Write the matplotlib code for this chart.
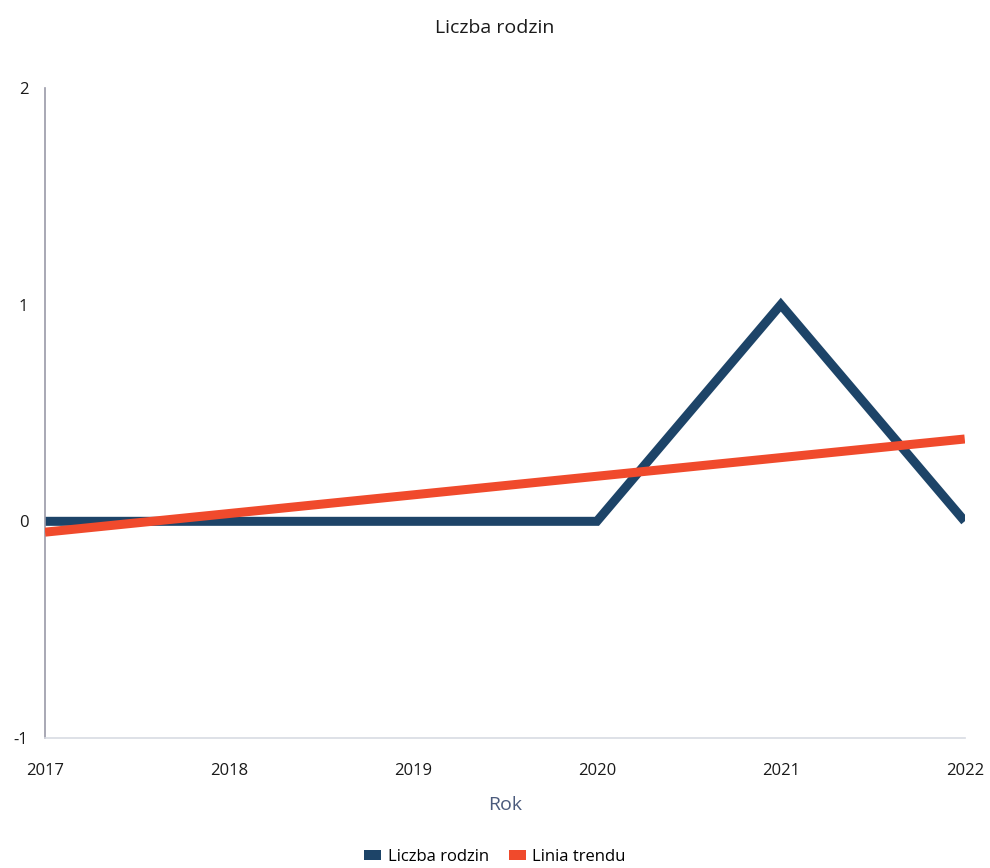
import matplotlib
matplotlib.use('Agg')
import matplotlib.pyplot as plt
from matplotlib.patches import Patch

plt.rcParams['font.family'] = ['Open Sans', 'DejaVu Sans']
plt.rcParams['axes.unicode_minus'] = False

# data
years = [2017, 2018, 2019, 2020, 2021, 2022]
families = [0, 0, 0, 0, 1, 0]
trend_years = [2017, 2022]
trend_values = [-0.05, 0.38]

blue = '#1d4468'
orange = '#f04a2c'

fig = plt.figure(figsize=(9.9, 8.68), dpi=100)
ax = fig.add_axes([0.0455, 0.1498, 0.929, 0.7488])

ax.plot(years, families, color=blue, linewidth=6.5, solid_capstyle='butt',
        solid_joinstyle='miter', zorder=2)
ax.plot(trend_years, trend_values, color=orange, linewidth=6.5,
        solid_capstyle='butt', zorder=3)

ax.set_xlim(2017, 2022)
ax.set_ylim(-1, 2)
ax.set_xticks(years)
ax.set_yticks([-1, 0, 1, 2])
ax.tick_params(length=0, labelsize=12, colors='#1a1a1a')
ax.tick_params(axis='x', pad=18)
ax.tick_params(axis='y', pad=12)

for side in ['top', 'right']:
    ax.spines[side].set_visible(False)
ax.spines['left'].set_color('#9a9aa8')
ax.spines['left'].set_linewidth(1.2)
ax.spines['bottom'].set_color('#d8dbe3')
ax.spines['bottom'].set_linewidth(1.2)

ax.set_xlabel('Rok', fontsize=14, color='#4a5a7c', labelpad=12)
fig.suptitle('Liczba rodzin', fontsize=14, color='#1a1a1a', y=0.978)

handles = [Patch(facecolor=blue, label='Liczba rodzin'),
           Patch(facecolor=orange, label='Linia trendu')]
fig.legend(handles=handles, loc='lower center', bbox_to_anchor=(0.5, -0.014),
           ncol=2, frameon=False, fontsize=12, handlelength=1.0,
           handleheight=0.5, handletextpad=0.4, columnspacing=1.2)

fig.savefig('out.png', dpi=100)
